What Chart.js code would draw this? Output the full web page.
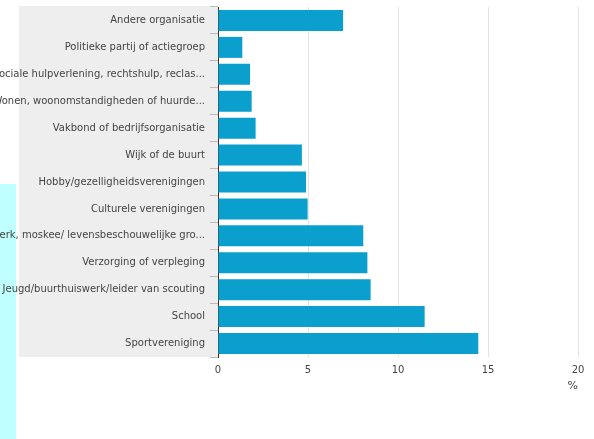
<!DOCTYPE html>
<html>
<head>
<meta charset="utf-8">
<script src="https://cdn.jsdelivr.net/npm/chart.js@4"></script>
<style>
  body { margin: 0; background: #fff; }
  canvas { display: block; }
</style>
</head>
<body>
<canvas id="chart" width="594" height="439"></canvas>
<script>
const categories = [
  'Andere organisatie',
  'Politieke partij of actiegroep',
  'Sociale hulpverlening, rechtshulp, reclas...',
  'Wonen, woonomstandigheden of huurde...',
  'Vakbond of bedrijfsorganisatie',
  'Wijk of de buurt',
  'Hobby/gezelligheidsverenigingen',
  'Culturele verenigingen',
  'Kerk, moskee/ levensbeschouwelijke gro...',
  'Verzorging of verpleging',
  'Jeugd/buurthuiswerk/leider van scouting',
  'School',
  'Sportvereniging'
];
const percentages = [6.95, 1.35, 1.78, 1.87, 2.09, 4.66, 4.89, 4.98, 8.07, 8.3, 8.48, 11.48, 14.46];
const xTicks = [0, 5, 10, 15, 20];
const xUnit = '%';

// grijze band achter de labels + het cyaan blokje links
const backdrop = {
  id: 'backdrop',
  beforeDraw(chart) {
    const { ctx, chartArea } = chart;
    ctx.save();
    ctx.fillStyle = '#c0ffff';
    ctx.fillRect(0, 184, 16, chart.height - 184);
    ctx.fillStyle = '#eeeeee';
    ctx.fillRect(19, chartArea.top - 1, chartArea.left - 19, chartArea.bottom - chartArea.top + 1);
    ctx.restore();
  }
};

const font = { family: 'DejaVu Sans', size: 10 };

new Chart(document.getElementById('chart').getContext('2d'), {
  type: 'bar',
  data: {
    labels: categories,
    datasets: [{
      data: percentages,
      backgroundColor: '#0a9fcc',
      borderWidth: 0,
      barPercentage: 0.78,
      categoryPercentage: 1
    }]
  },
  options: {
    indexAxis: 'y',
    responsive: false,
    animation: false,
    events: [],
    layout: { padding: { top: 7, right: 16, bottom: 46, left: 0 } },
    plugins: { legend: { display: false }, tooltip: { enabled: false } },
    scales: {
      x: {
        min: 0,
        max: 20,
        afterBuildTicks: scale => { scale.ticks = xTicks.map(v => ({ value: v })); },
        afterFit: scale => { scale.height = 36; },
        grid: { color: '#e3e3e3', drawTicks: false },
        border: { display: false },
        ticks: { font, color: '#444', padding: 7 },
        title: { display: true, text: xUnit, align: 'end', font: { family: 'DejaVu Sans', size: 11 }, color: '#444', padding: 0 }
      },
      y: {
        afterFit: scale => {
          scale.width = 218;
          scale.paddingTop = 0;
          scale.paddingBottom = 0;
        },
        grid: { drawOnChartArea: false, drawTicks: true, tickLength: 8, color: '#bbbbbb', offset: true },
        border: { display: true, color: '#333', width: 1 },
        ticks: { font, color: '#444', padding: 5, autoSkip: false }
      }
    }
  },
  plugins: [backdrop]
});
</script>
</body>
</html>
